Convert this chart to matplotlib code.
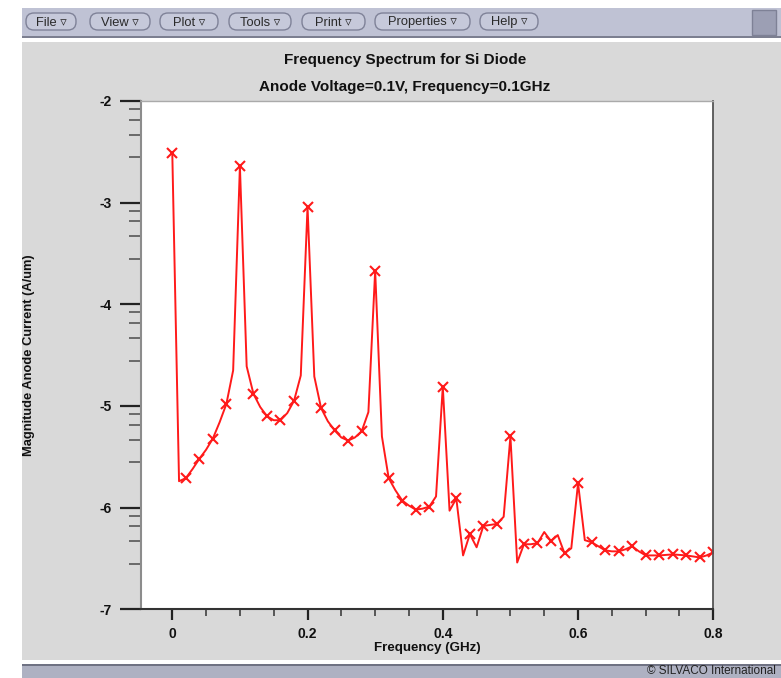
import numpy as np
import matplotlib
matplotlib.use("Agg")
import matplotlib.pyplot as plt
from matplotlib.patches import Rectangle, FancyBboxPatch
from matplotlib.ticker import FixedLocator

# ---------------- data ----------------
freq = np.linspace(0.0, 0.8, 81)  # GHz sampling grid
magnitude = [
    -2.51, -5.74, -5.71, -5.62, -5.52, -5.43, -5.32, -5.16, -4.98, -4.65,
    -2.64, -4.61, -4.88, -5.01, -5.10, -5.14, -5.14, -5.07, -4.95, -4.70,
    -3.04, -4.71, -5.02, -5.15, -5.24, -5.31, -5.34, -5.31, -5.25, -5.06,
    -3.67, -5.30, -5.71, -5.83, -5.93, -5.98, -6.02, -6.01, -5.99, -5.89,
    -4.81, -6.03, -5.91, -6.47, -6.26, -6.39, -6.18, -6.17, -6.16, -6.09,
    -5.30, -6.54, -6.36, -6.36, -6.35, -6.24, -6.33, -6.27, -6.45, -6.40,
    -5.76, -6.32, -6.34, -6.38, -6.42, -6.43, -6.43, -6.41, -6.38, -6.43,
    -6.47, -6.47, -6.47, -6.465, -6.46, -6.465, -6.47, -6.48, -6.49, -6.47,
    -6.44,
]
x_ticks = [0.0, 0.2, 0.4, 0.6, 0.8]
x_ticklabels = ["0", "0.2", "0.4", "0.6", "0.8"]
y_ticks = [-7, -6, -5, -4, -3, -2]
y_ticklabels = ["-7", "-6", "-5", "-4", "-3", "-2"]
minor_offsets = [0.08, 0.185, 0.33, 0.555]
menu_items = ["File", "View", "Plot", "Tools", "Print", "Properties", "Help"]
menu_x = [(24, 78), (88, 152), (158, 220), (227, 293), (300, 367), (373, 472), (478, 540)]

title = "Frequency Spectrum for Si Diode"
subtitle = "Anode Voltage=0.1V, Frequency=0.1GHz"
xlabel = "Frequency (GHz)"
ylabel = "Magnitude Anode Current (A/um)"

W, H = 781, 678
FONT = ["Liberation Sans", "DejaVu Sans"]

fig = plt.figure(figsize=(W / 100, H / 100), dpi=100, facecolor="white")

# ---------------- window chrome (pixel coordinates) ----------------
bg = fig.add_axes([0, 0, 1, 1], zorder=-5)
bg.set_xlim(0, W)
bg.set_ylim(H, 0)
bg.axis("off")

bg.add_patch(Rectangle((22, 8), W - 22, 29, facecolor="#bfc2d4", edgecolor="none"))
bg.add_patch(Rectangle((22, 36), W - 22, 2, facecolor="#7c7f90", edgecolor="none"))
bg.add_patch(Rectangle((752, 10), 24, 25, facecolor="#9c9fb4", edgecolor="#7e8196", lw=1))
for name, (x0, x1) in zip(menu_items, menu_x):
    bg.add_patch(FancyBboxPatch((x0 + 2, 13), x1 - x0 - 4, 17,
                                boxstyle="round,pad=0,rounding_size=8",
                                facecolor="#c6c9da", edgecolor="#7f8298", lw=1.0))
    bg.text((x0 + x1) / 2, 25.5, name + " \u25BF", ha="center", va="baseline",
            fontsize=9.3, color="#2a2a2a", family=FONT)

bg.add_patch(Rectangle((22, 42), W - 22, 618, facecolor="#d9d9d9", edgecolor="none"))
bg.add_patch(Rectangle((22, 664), W - 22, 14, facecolor="#aeb1c2", edgecolor="none"))
bg.add_patch(Rectangle((22, 664), W - 22, 1.5, facecolor="#6f7283", edgecolor="none"))
bg.text(776, 671.5, "\u00A9 SILVACO International", ha="right", va="center",
        fontsize=8.5, color="#222222", family=FONT)

bg.text(405, 60, title, ha="center", va="center", fontsize=11,
        fontweight="bold", color="#111111", family=FONT)
bg.text(405, 87, subtitle, ha="center", va="center", fontsize=11,
        fontweight="bold", color="#111111", family=FONT)
bg.text(29, 355, ylabel, ha="center", va="center", rotation=90, fontsize=9.3,
        fontweight="bold", color="#111111", family=FONT)
bg.text(427, 648, xlabel, ha="center", va="center", fontsize=9.6,
        fontweight="bold", color="#111111", family=FONT)

# ---------------- plot ----------------
left, right, top, bottom = 140.7, 713.3, 101.0, 609.3
ax = fig.add_axes([left / W, 1 - bottom / H, (right - left) / W, (bottom - top) / H])
ax.set_facecolor("white")
ax.plot(freq, magnitude, color="#ff1a1a", lw=1.4, marker="x", markevery=2,
        markersize=7, markeredgewidth=1.5, clip_on=True)

ax.set_xlim(-0.0467, 0.8)
ax.set_ylim(-7, -2)

ax.set_xticks(x_ticks)
ax.set_xticklabels(x_ticklabels)
ax.xaxis.set_minor_locator(FixedLocator([0.05, 0.1, 0.15, 0.25, 0.3, 0.35, 0.45, 0.5, 0.55,
                                          0.65, 0.7, 0.75]))
ax.set_yticks(y_ticks)
ax.set_yticklabels(y_ticklabels)
ymin_locs = []
for t in y_ticks[1:]:
    for o in minor_offsets:
        ymin_locs.append(t - o)
ax.yaxis.set_minor_locator(FixedLocator(ymin_locs))

ax.tick_params(axis="y", which="major", direction="out", length=15, width=1.6,
               color="#222222", pad=6, labelsize=10)
ax.tick_params(axis="y", which="minor", direction="out", length=9, width=1.2,
               color="#555555")
ax.tick_params(axis="x", which="major", direction="out", length=8, width=1.6,
               color="#222222", pad=5, labelsize=10)
ax.tick_params(axis="x", which="minor", direction="out", length=5, width=1.1,
               color="#333333")
for lab in ax.get_xticklabels() + ax.get_yticklabels():
    lab.set_fontweight("bold")
    lab.set_family(FONT)
    lab.set_color("#111111")

ax.spines["left"].set_color("#8c8c8c")
ax.spines["left"].set_linewidth(1.5)
ax.spines["bottom"].set_color("#333333")
ax.spines["bottom"].set_linewidth(1.5)
ax.spines["right"].set_color("#555555")
ax.spines["right"].set_linewidth(1.3)
ax.spines["top"].set_color("#aaaaaa")
ax.spines["top"].set_linewidth(1.0)

fig.savefig("out.png", dpi=100, facecolor="white")
